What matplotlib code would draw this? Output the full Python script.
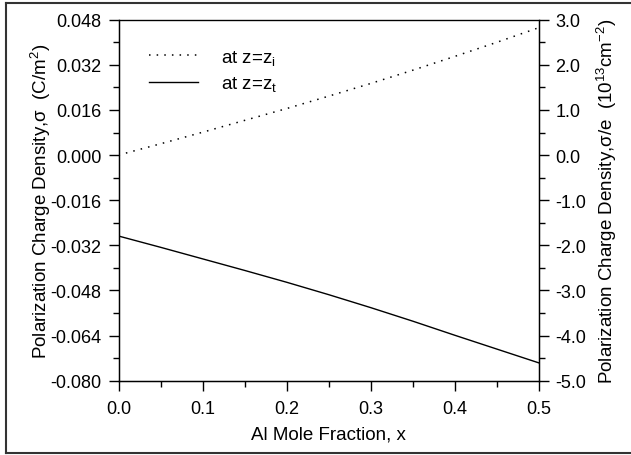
import matplotlib
matplotlib.use("Agg")
import matplotlib.pyplot as plt
from matplotlib.lines import Line2D
from matplotlib.ticker import MultipleLocator, FormatStrFormatter

plt.rcParams['font.family'] = ['Liberation Sans', 'DejaVu Sans']
plt.rcParams['mathtext.fontset'] = 'custom'
plt.rcParams['mathtext.rm'] = 'Liberation Sans'
plt.rcParams['mathtext.it'] = 'Liberation Sans'

# Data
x_vals = [0.0, 0.05, 0.1, 0.15, 0.2, 0.25, 0.3, 0.35, 0.4, 0.45, 0.5]
sigma_zi = [0.0000, 0.0040, 0.0081, 0.0123, 0.0165, 0.0209, 0.0254, 0.0301, 0.0350, 0.0400, 0.0452]
sigma_zt = [-0.0287, -0.0327, -0.0368, -0.0409, -0.0451, -0.0495, -0.0541, -0.0589, -0.0639, -0.0688, -0.0737]

TICK_FS = 13
LABEL_FS = 13.5

fig = plt.figure(figsize=(6.31, 4.56), dpi=100)
ax = fig.add_axes([118.5/631, 1-381.7/456, (539-118.5)/631, (381.7-20.7)/456])

ax.plot(x_vals, sigma_zi, color='black', linestyle=(0, (1, 4)), linewidth=1.1, label=r'at z=z$_\mathrm{i}$')
ax.plot(x_vals, sigma_zt, color='black', linestyle='-', linewidth=1.0, label=r'at z=z$_\mathrm{t}$')

ax.set_xlim(0, 0.5)
ax.set_ylim(-0.080, 0.048)
ax.xaxis.set_major_locator(MultipleLocator(0.1))
ax.xaxis.set_minor_locator(MultipleLocator(0.05))
ax.xaxis.set_major_formatter(FormatStrFormatter('%.1f'))
ax.yaxis.set_major_locator(MultipleLocator(0.016))
ax.yaxis.set_minor_locator(MultipleLocator(0.008))
ax.yaxis.set_major_formatter(FormatStrFormatter('%.3f'))
ax.tick_params(which='major', direction='out', length=7, width=1, labelsize=TICK_FS)
ax.tick_params(axis='y', which='major', pad=5.5)
ax.tick_params(axis='x', which='major', pad=7)
ax.tick_params(which='minor', direction='out', length=4, width=1)
ax.tick_params(axis='y', which='both', right=False)
ax.tick_params(axis='x', which='both', top=False)
for s in ax.spines.values():
    s.set_linewidth(1.0)
ax.spines['top'].set_color('#555555')

ax.set_xlabel('Al Mole Fraction, x', fontsize=LABEL_FS, labelpad=6)
ax.set_ylabel('Polarization Charge Density,σ  (C/m$^2$)', fontsize=LABEL_FS, labelpad=-2)

ax2 = ax.twinx()
ax2.set_ylim(-5.0, 3.0)
ax2.yaxis.set_major_locator(MultipleLocator(1.0))
ax2.yaxis.set_minor_locator(MultipleLocator(0.5))
ax2.yaxis.set_major_formatter(FormatStrFormatter('%.1f'))
ax2.tick_params(which='major', direction='out', length=7, width=1, labelsize=TICK_FS, pad=4.8)
ax2.tick_params(which='minor', direction='out', length=4, width=1)
ax2.set_ylabel('Polarization Charge Density,σ/e  (10$^{13}$cm$^{-2}$)', fontsize=LABEL_FS, labelpad=6)

leg = ax.legend(loc='upper left', bbox_to_anchor=(0.033, 0.969), frameon=False, fontsize=LABEL_FS,
                handlelength=2.6, handletextpad=1.2, labelspacing=0.4)

# outer frame
fig.add_artist(Line2D([6/631, 6/631], [1-4/456, 1-454/456], color='#333333', linewidth=1.5, transform=fig.transFigure))
fig.add_artist(Line2D([6/631, 1.0], [1-4/456, 1-4/456], color='#333333', linewidth=1.5, transform=fig.transFigure))
fig.add_artist(Line2D([6/631, 1.0], [1-454/456, 1-454/456], color='#333333', linewidth=1.5, transform=fig.transFigure))

fig.savefig('out.png', dpi=100)
